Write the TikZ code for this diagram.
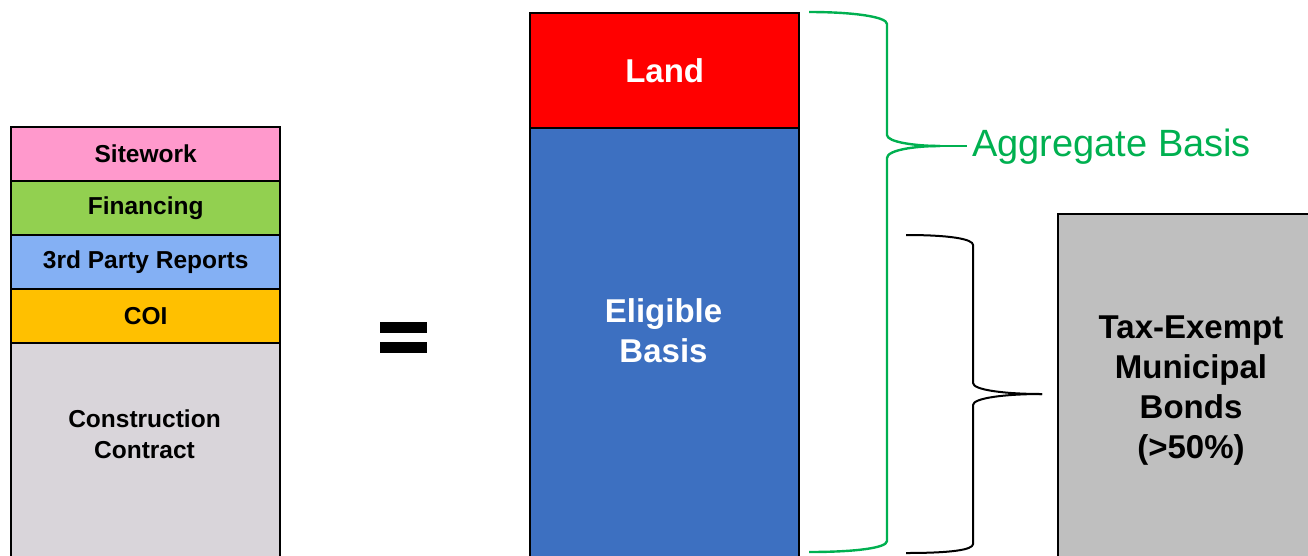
\documentclass[tikz,border=0pt]{standalone}
\usepackage{fontspec}
\setmainfont{Liberation Sans}
\definecolor{cpink}{HTML}{FF99CC}
\definecolor{cgreen}{HTML}{92D050}
\definecolor{cltblue}{HTML}{84B0F4}
\definecolor{cgold}{HTML}{FFC000}
\definecolor{cltgray}{HTML}{D9D5DA}
\definecolor{cred}{HTML}{FF0000}
\definecolor{cblue}{HTML}{3D70C1}
\definecolor{cgray}{HTML}{BFBFBF}
\definecolor{cbrace}{HTML}{00B050}
\tikzset{
  box/.style={draw=black, line width=2.4pt, anchor=north west, inner sep=0pt, minimum width=269pt},
  small/.style={font=\fontsize{24.5}{31}\selectfont\bfseries, align=center, text=black},
  big/.style={font=\fontsize{33}{40}\selectfont\bfseries, align=center},
  gbrace/.style={draw=cbrace, line width=2.4pt},
  bbrace/.style={draw=black, line width=2pt},
}
\begin{document}
\begin{tikzpicture}[x=1pt,y=-1pt]
\useasboundingbox (0,0) rectangle (1308,555);
\clip (0,0) rectangle (1308,555);
% left stack
\node[box, fill=cpink, minimum height=54pt, small] (site) at (10,126) {Sitework};
\node[box, fill=cgreen, minimum height=54pt, small] (fin) at (10,180) {Financing};
\node[box, fill=cltblue, minimum height=54pt, small] (rep) at (10,234) {3rd Party Reports};
\node[box, fill=cgold, minimum height=54pt, small] (coi) at (10,288) {COI};
\node[box, fill=cltgray, minimum height=230pt] (con) at (10,342) {};
\node[small] (contxt) at (144.5,434) {Construction\\Contract};
% equals
\node[fill=black, inner sep=0pt, minimum width=47pt, minimum height=11pt, anchor=north west] (eqa) at (380,322) {};
\node[fill=black, inner sep=0pt, minimum width=47pt, minimum height=11pt, anchor=north west] (eqb) at (380,342) {};
% middle column
\node[box, fill=cred, minimum height=115pt, big, text=white] (land) at (529,12) {Land};
\node[box, fill=cblue, minimum height=440pt] (elig) at (529,127) {};
\node[big, text=white] (eligtxt) at (663.5,331) {Eligible\\Basis};
% gray box
\node[box, fill=cgray, minimum width=270pt, minimum height=360pt] (bonds) at (1057,213) {};
\node[big, text=black] (bondstxt) at (1191,391) {Tax-Exempt\\Municipal\\Bonds\\(>50\%)};
% green brace
\coordinate (gtip) at (940,146);
\coordinate (gend) at (967,146);
\draw[gbrace] (809,12) .. controls (855,12) and (887,17) .. (887,24) -- (887,135)
  .. controls (887,142) and (915,146) .. (gtip);
\draw[gbrace] (gtip) .. controls (915,146) and (887,150) .. (887,158) -- (887,541)
  .. controls (887,548) and (855,552) .. (809,552);
\draw[gbrace] (gtip) -- (gend);
\node[anchor=base west, text=cbrace, font=\fontsize{38}{44}\selectfont, inner sep=0pt] (agg) at (972,156) {Aggregate Basis};
% black brace
\coordinate (btip) at (1042,394);
\draw[bbrace] (906,235) .. controls (950,235) and (973,239) .. (973,245) -- (973,383)
  .. controls (973,390) and (1005,394) .. (btip);
\draw[bbrace] (btip) .. controls (1005,394) and (973,398) .. (973,405) -- (973,544)
  .. controls (973,550) and (950,553) .. (906,553);
\end{tikzpicture}
\end{document}
